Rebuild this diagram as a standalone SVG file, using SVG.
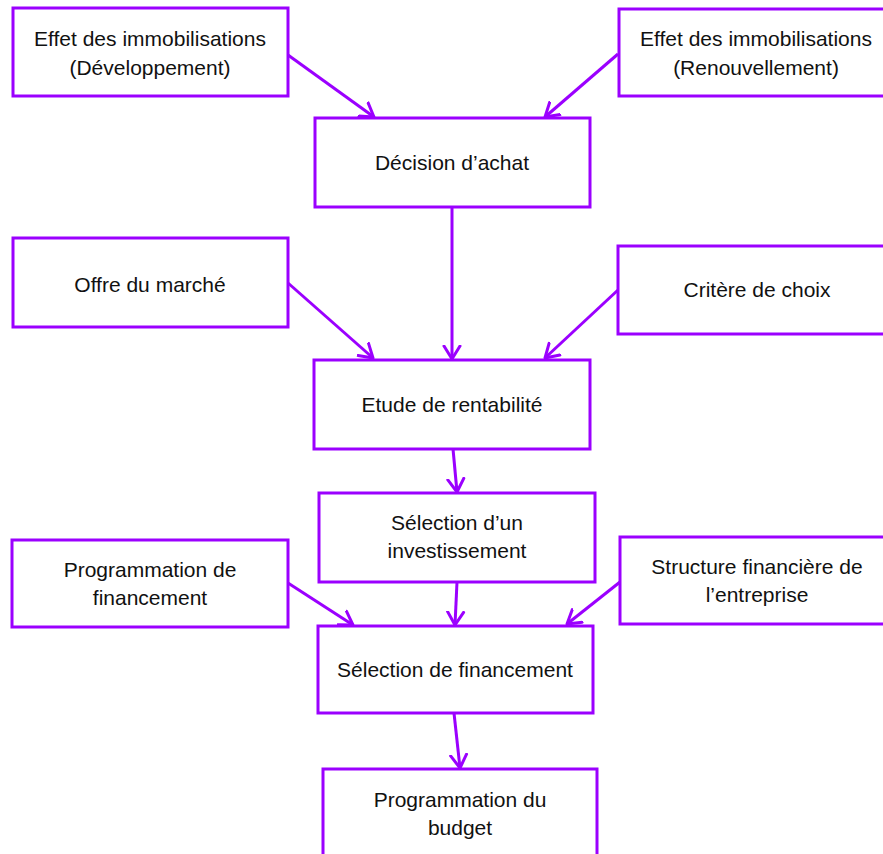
<svg xmlns="http://www.w3.org/2000/svg" width="883" height="854" viewBox="0 0 883 854">
<style>
.box{fill:#fff;stroke:#9b00ff;stroke-width:3}
.t{font-family:"Liberation Sans",Arial,sans-serif;font-size:21px;fill:#111;text-anchor:middle}
.c{stroke:#9b00ff;stroke-width:3;fill:none;marker-end:url(#ah)}
</style>
<defs>
<marker id="ah" markerUnits="userSpaceOnUse" markerWidth="16" markerHeight="20" viewBox="0 0 16 20" refX="14" refY="10" orient="auto">
<path d="M1,2 L14,10 L1,18" fill="none" stroke="#9b00ff" stroke-width="3" stroke-linecap="round" stroke-linejoin="round"/>
</marker>
</defs>
<rect width="883" height="854" fill="#fff"/>
<g id="connectors">
<line class="c" x1="288" y1="55" x2="374" y2="117"/>
<line class="c" x1="618" y1="54" x2="545" y2="117"/>
<line class="c" x1="452" y1="207" x2="452" y2="359"/>
<line class="c" x1="288" y1="283" x2="373" y2="358"/>
<line class="c" x1="618" y1="290" x2="545" y2="358"/>
<line class="c" x1="453" y1="449" x2="457" y2="492"/>
<line class="c" x1="288" y1="583" x2="353" y2="625"/>
<line class="c" x1="620" y1="582" x2="567" y2="624"/>
<line class="c" x1="457" y1="582" x2="455" y2="625"/>
<line class="c" x1="454" y1="713" x2="460" y2="768"/>
</g>
<g id="effet-dev">
<rect class="box" x="13" y="8" width="275" height="88"/>
<text class="t" x="150" y="46">Effet des immobilisations</text>
<text class="t" x="150" y="75">(Développement)</text>
</g>
<g id="effet-ren">
<rect class="box" x="619" y="9" width="275" height="87"/>
<text class="t" x="756" y="46">Effet des immobilisations</text>
<text class="t" x="756" y="75">(Renouvellement)</text>
</g>
<g id="decision">
<rect class="box" x="315" y="118" width="275" height="89"/>
<text class="t" x="452" y="170">Décision d’achat</text>
</g>
<g id="offre">
<rect class="box" x="13" y="238" width="275" height="89"/>
<text class="t" x="150" y="292">Offre du marché</text>
</g>
<g id="critere">
<rect class="box" x="618" y="246" width="278" height="88"/>
<text class="t" x="757" y="297">Critère de choix</text>
</g>
<g id="etude">
<rect class="box" x="314" y="360" width="276" height="89"/>
<text class="t" x="452" y="412">Etude de rentabilité</text>
</g>
<g id="selection-invest">
<rect class="box" x="319" y="493" width="276" height="89"/>
<text class="t" x="457" y="530">Sélection d’un</text>
<text class="t" x="457" y="558">investissement</text>
</g>
<g id="prog-fin">
<rect class="box" x="12" y="540" width="276" height="87"/>
<text class="t" x="150" y="577">Programmation de</text>
<text class="t" x="150" y="605">financement</text>
</g>
<g id="structure">
<rect class="box" x="620" y="537" width="276" height="87"/>
<text class="t" x="757" y="574">Structure financière de</text>
<text class="t" x="757" y="602">l’entreprise</text>
</g>
<g id="selection-fin">
<rect class="box" x="318" y="626" width="275" height="87"/>
<text class="t" x="455" y="677">Sélection de financement</text>
</g>
<g id="budget">
<rect class="box" x="323" y="769" width="274" height="100"/>
<text class="t" x="460" y="807">Programmation du</text>
<text class="t" x="460" y="835">budget</text>
</g>
</svg>
